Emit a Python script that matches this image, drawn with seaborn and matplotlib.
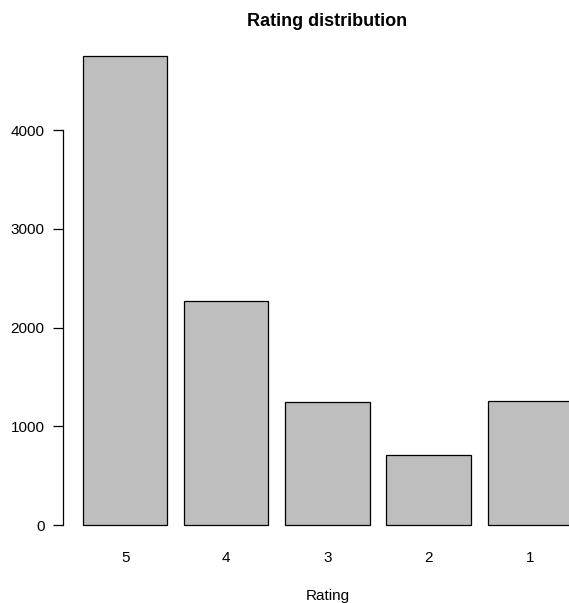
import matplotlib
matplotlib.use("Agg")
import matplotlib.pyplot as plt
import seaborn as sns
import pandas as pd

ratings = ["5", "4", "3", "2", "1"]
counts = [4749, 2271, 1250, 709, 1259]
yticks = [0, 1000, 2000, 3000, 4000]

sns.set_style("white")
plt.rcParams['font.family'] = ['Liberation Sans', 'DejaVu Sans']
plt.rcParams['text.color'] = 'black'
plt.rcParams['axes.labelcolor'] = 'black'

df = pd.DataFrame({"Rating": ratings, "Count": counts})

W, H = 569, 603
fig = plt.figure(figsize=(W / 100, H / 100), dpi=100)
left_px, right_px, top_px, bot_px = 63.4, 591.6, 37.3, 543.8
ax = fig.add_axes([left_px / W, (H - bot_px) / H, (right_px - left_px) / W, (bot_px - top_px) / H])

sns.barplot(data=df, x="Rating", y="Count", order=ratings, color="#BEBEBE",
            saturation=1, width=1 / 1.2, edgecolor="black", linewidth=0.9, ax=ax)

ax.set_xlim(-0.61, 4.611)
ax.set_ylim(-190, 4939)
ax.set_yticks(yticks)
ax.set_yticklabels([str(v) for v in yticks])
for s in ["top", "right", "bottom"]:
    ax.spines[s].set_visible(False)
ax.spines["left"].set_bounds(0, 4000)
ax.spines["left"].set_color("black")
ax.spines["left"].set_linewidth(0.9)
ax.tick_params(axis="y", left=True, length=7, width=0.9, pad=6.5, labelsize=11, colors="black")
ax.tick_params(axis="x", bottom=False, length=0, pad=5.5, labelsize=11, colors="black")
ax.set_ylabel("")
ax.set_xlabel("Rating", fontsize=11, labelpad=17, color="black")
ax.set_title("Rating distribution", fontsize=13, fontweight="bold", pad=8, color="black")

fig.savefig("out.png", dpi=100)
